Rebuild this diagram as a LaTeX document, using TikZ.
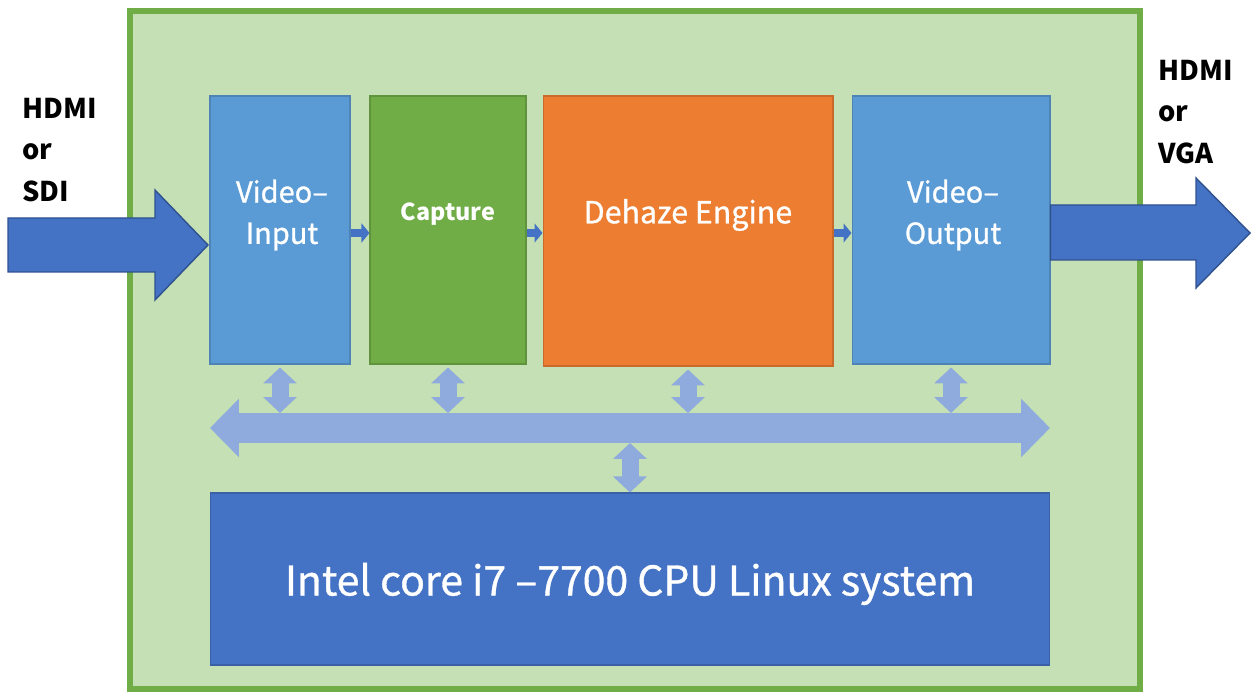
\documentclass[tikz,border=0pt]{standalone}
\usepackage{fontspec}
\setmainfont{Noto Sans CJK JP}
\newfontfamily\boxfont[FakeBold=0.9]{Noto Sans CJK JP}
\usepackage{tikz}
\usetikzlibrary{arrows.meta}

\definecolor{boardfill}{HTML}{C5E0B4}
\definecolor{boardline}{HTML}{70AD47}
\definecolor{lightblue}{HTML}{5B9BD5}
\definecolor{capgreen}{HTML}{70AD47}
\definecolor{dehorange}{HTML}{ED7D31}
\definecolor{darkblue}{HTML}{4472C4}
\definecolor{arrowline}{HTML}{2F528F}
\definecolor{buscol}{HTML}{8FAADC}

\begin{document}
\begin{tikzpicture}[x=0.02cm, y=-0.02cm,
		block/.style={draw=#1!85!black, fill=#1, line width=0.6pt, minimum height=5.36cm},
		label/.style={text=white, align=center, font=\boxfont\fontsize{16.5}{23.5}\selectfont},
		iotext/.style={align=left, anchor=north west, font=\bfseries\fontsize{15.5}{23.5}\selectfont},
		bigarrow/.style={fill=darkblue, draw=arrowline, line width=0.8pt},
		link/.style={draw=darkblue, line width=0.16cm, -{Triangle[width=0.38cm,length=0.16cm]}},
		updown/.style={draw=buscol, line width=0.34cm, {Triangle[width=0.66cm,length=0.32cm]}-{Triangle[width=0.66cm,length=0.32cm]}},
		bus/.style={draw=buscol, line width=0.6cm, {Triangle[width=1.14cm,length=0.58cm]}-{Triangle[width=1.14cm,length=0.58cm]}}]
		\useasboundingbox (0,0) rectangle (1257,692);
		
		% board
		\draw [fill=boardfill, draw=boardline, line width=0.12cm] (130,11) rectangle (1140,689);
		
		% processing blocks
		\node [block=lightblue, minimum width=2.8cm] (vin) at (280,230) {};
		\node [block=capgreen, minimum width=3.12cm] (cap) at (448,230) {};
		\node [block=dehorange, minimum width=5.8cm, minimum height=5.4cm] (deh) at (688,231) {};
		\node [block=lightblue, minimum width=3.96cm] (vout) at (951,230) {};
		\node [block=darkblue, minimum width=16.8cm, minimum height=3.44cm] (cpu) at (630,579) {};
		
		\node [label] (vin-t) at (282,215) {Video–\\Input};
		\node [label, font=\bfseries\fontsize{13.3}{16}\selectfont] (cap-t) at (448,214) {Capture};
		\node [label, font=\boxfont\fontsize{17.3}{20}\selectfont] (deh-t) at (688,215) {Dehaze Engine};
		\node [label] (vout-t) at (953,215) {Video–\\Output};
		\node [label, font=\boxfont\fontsize{23.3}{26}\selectfont] (cpu-t) at (630,584) {Intel core i7 –7700 CPU Linux system};
		
		% data flow between blocks
		\draw [link] (vin.east |- 0,233) -- (cap.west |- 0,233);
		\draw [link] (cap.east |- 0,233) -- (deh.west |- 0,233);
		\draw [link] (deh.east |- 0,233) -- (vout.west |- 0,233);
		
		% system bus
		\coordinate (bus-l) at (210,428);
		\coordinate (bus-r) at (1050,428);
		\coordinate (bus-top) at (0,413);
		\coordinate (bus-bot) at (0,443);
		\draw [bus] (bus-l) -- (bus-r);
		\foreach \b in {vin,cap,deh,vout}
		\draw [updown] ([yshift=-0.06cm]\b.south) -- (\b.south |- bus-top);
		\draw [updown] (cpu.north) -- (cpu.north |- bus-bot);
		
		% external input / output
		\coordinate (in-tip) at (208,245);
		\coordinate (out-tip) at (1250,233);
		\draw [bigarrow] (in-tip) -- (155,300) -- (155,272) -- (8,272) -- (8,218) -- (155,218) -- (155,190) -- cycle;
		\draw [bigarrow] (out-tip) -- (1196,288) -- (1196,260) -- (vout.east |- 0,260) -- (vout.east |- 0,205) -- (1196,205) -- (1196,178) -- cycle;
		
		\node [iotext] (in-t) at (16,92) {HDMI\\or\\SDI};
		\node [iotext] (out-t) at (1152,54) {HDMI\\or\\VGA};
		
	\end{tikzpicture}
\end{document}
